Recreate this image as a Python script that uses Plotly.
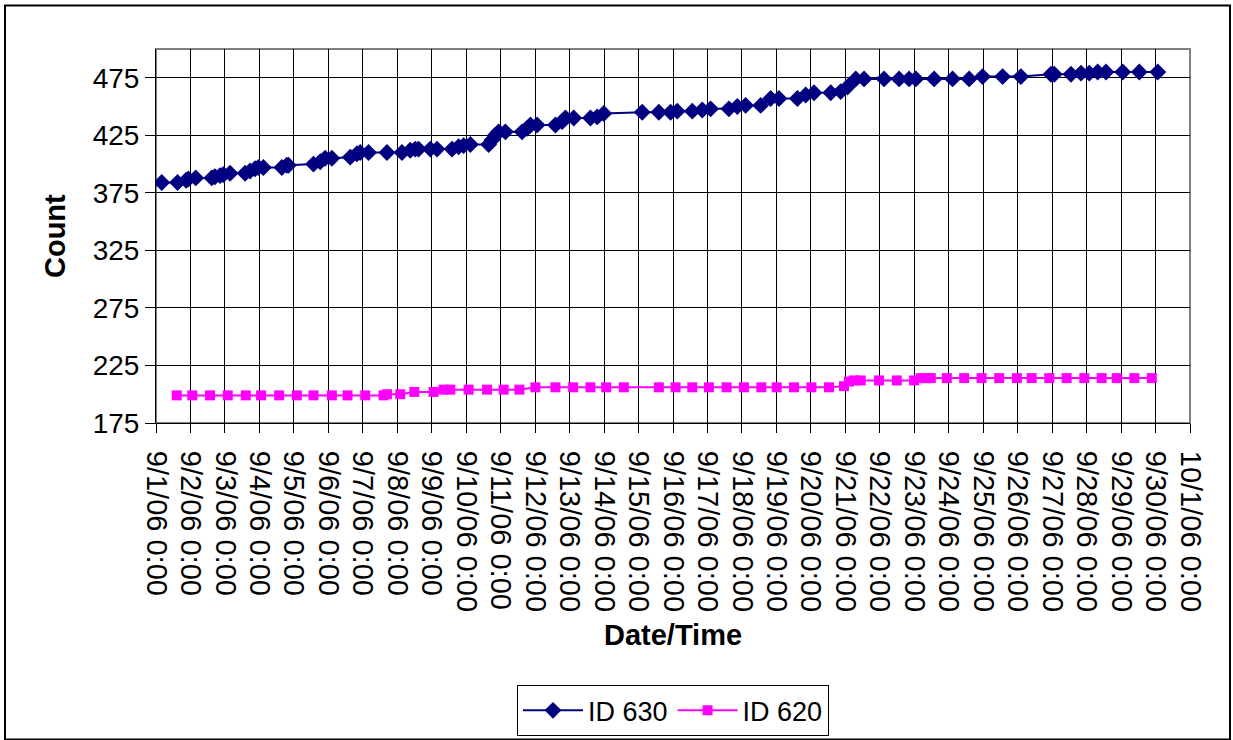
import plotly.graph_objects as go
from datetime import datetime, timedelta

# ---- data ----
id630_time = [
    "2006-09-01 04:00", "2006-09-01 15:00", "2006-09-01 21:00", "2006-09-01 22:30",
    "2006-09-02 03:40", "2006-09-02 14:50", "2006-09-02 17:00", "2006-09-02 20:36",
    "2006-09-02 22:55", "2006-09-03 03:35", "2006-09-03 14:02", "2006-09-03 17:31",
    "2006-09-03 21:00", "2006-09-03 23:18", "2006-09-04 02:47", "2006-09-04 15:37",
    "2006-09-04 19:06", "2006-09-04 20:13", "2006-09-05 13:39", "2006-09-05 18:19",
    "2006-09-05 21:48", "2006-09-06 02:28", "2006-09-06 15:14", "2006-09-06 19:54",
    "2006-09-06 22:12", "2006-09-07 04:00", "2006-09-07 16:49", "2006-09-08 03:16",
    "2006-09-08 09:03", "2006-09-08 12:32", "2006-09-08 14:50", "2006-09-08 23:00",
    "2006-09-09 03:40", "2006-09-09 14:07", "2006-09-09 18:43", "2006-09-09 22:12",
    "2006-09-10 02:53", "2006-09-10 15:38", "2006-09-10 18:00", "2006-09-10 20:18",
    "2006-09-10 22:36", "2006-09-11 03:16", "2006-09-11 14:55", "2006-09-11 18:24",
    "2006-09-11 20:43", "2006-09-12 01:22", "2006-09-12 14:08", "2006-09-12 18:48",
    "2006-09-12 21:06", "2006-09-13 02:53", "2006-09-13 14:31", "2006-09-13 19:12",
    "2006-09-13 23:48", "2006-09-15 02:34", "2006-09-15 14:08", "2006-09-15 22:18",
    "2006-09-16 02:57", "2006-09-16 13:25", "2006-09-16 20:22", "2006-09-17 02:10",
    "2006-09-17 14:55", "2006-09-17 20:47", "2006-09-18 02:34", "2006-09-18 13:02",
    "2006-09-18 20:00", "2006-09-19 01:47", "2006-09-19 14:36", "2006-09-19 20:24",
    "2006-09-20 02:11", "2006-09-20 13:50", "2006-09-20 20:47", "2006-09-21 01:28",
    "2006-09-21 07:15", "2006-09-21 13:02", "2006-09-22 02:58", "2006-09-22 13:26",
    "2006-09-22 20:24", "2006-09-23 01:05", "2006-09-23 13:50", "2006-09-24 02:40",
    "2006-09-24 14:14", "2006-09-24 23:34", "2006-09-25 13:30", "2006-09-26 02:15",
    "2006-09-26 23:11", "2006-09-27 01:29", "2006-09-27 13:07", "2006-09-27 20:05",
    "2006-09-28 01:52", "2006-09-28 07:43", "2006-09-28 13:30", "2006-09-29 01:09",
    "2006-09-29 12:43", "2006-09-30 01:34",
]
id630_count = [
    384, 384, 386, 387, 388, 388, 389, 390, 391, 392, 392, 394,
    396, 397, 397, 397, 399, 399, 400, 402, 405, 405, 406, 409,
    410, 410, 410, 410, 412, 413, 413, 413, 413, 413, 415, 416,
    417, 417, 421, 425, 428, 428, 428, 431, 434, 434, 434, 437,
    440, 440, 440, 441, 444, 445, 445, 445, 446, 446, 447, 448,
    448, 450, 451, 451, 457, 457, 457, 460, 462, 462, 463, 467,
    474, 474, 474, 474, 474, 474, 474, 474, 474, 476, 476, 476,
    478, 478, 478, 479, 479, 480, 480, 480, 480, 480,
]

id620_time = [
    "2006-09-01 14:26", "2006-09-02 01:18", "2006-09-02 13:38", "2006-09-03 01:58",
    "2006-09-03 14:31", "2006-09-04 01:11", "2006-09-04 13:44", "2006-09-05 02:05",
    "2006-09-05 13:39", "2006-09-06 02:28", "2006-09-06 13:21", "2006-09-07 01:41",
    "2006-09-07 14:27", "2006-09-07 16:49", "2006-09-08 02:05", "2006-09-08 11:50",
    "2006-09-09 01:18", "2006-09-09 08:15", "2006-09-09 12:56", "2006-09-10 01:42",
    "2006-09-10 14:31", "2006-09-11 02:05", "2006-09-11 13:02", "2006-09-12 00:11",
    "2006-09-12 14:08", "2006-09-13 02:28", "2006-09-13 14:31", "2006-09-14 01:28",
    "2006-09-14 13:45", "2006-09-15 14:08", "2006-09-16 01:47", "2006-09-16 13:25",
    "2006-09-17 00:59", "2006-09-17 13:19", "2006-09-18 01:23", "2006-09-18 13:31",
    "2006-09-19 00:11", "2006-09-19 12:14", "2006-09-20 00:22", "2006-09-20 12:38",
    "2006-09-20 23:05", "2006-09-21 02:34", "2006-09-21 06:02", "2006-09-21 10:43",
    "2006-09-21 23:28", "2006-09-22 11:50", "2006-09-22 23:53", "2006-09-23 04:34",
    "2006-09-23 09:13", "2006-09-23 11:31", "2006-09-23 22:41", "2006-09-24 10:45",
    "2006-09-24 22:52", "2006-09-25 11:08", "2006-09-25 23:28", "2006-09-26 09:43",
    "2006-09-26 21:59", "2006-09-27 10:06", "2006-09-27 22:23", "2006-09-28 10:30",
    "2006-09-28 20:58", "2006-09-29 09:14", "2006-09-29 21:23",
]
id620_count = [
    199, 199, 199, 199, 199, 199, 199, 199, 199, 199, 199, 199,
    199, 200, 200, 202, 202, 204, 204, 204, 204, 204, 204, 206,
    206, 206, 206, 206, 206, 206, 206, 206, 206, 206, 206, 206,
    206, 206, 206, 206, 207, 211, 212, 212, 212, 212, 212, 214,
    214, 214, 214, 214, 214, 214, 214, 214, 214, 214, 214, 214,
    214, 214, 214,
]

y_ticks = [175, 225, 275, 325, 375, 425, 475]
x_start = datetime(2006, 9, 1)
x_days = 30
x_tick_dates = [x_start + timedelta(days=i) for i in range(x_days + 1)]
x_tick_labels = [f"{d.month}/{d.day}/{d.strftime('%y')} 0:00" for d in x_tick_dates]

FONT = "Liberation Sans, Arial, sans-serif"

fig = go.Figure()
fig.add_trace(go.Scatter(
    x=id630_time, y=id630_count, name="ID 630", mode="lines+markers",
    line=dict(color="#000080", width=2),
    marker=dict(symbol="diamond", size=13, color="#000080"),
))
fig.add_trace(go.Scatter(
    x=id620_time, y=id620_count, name="ID 620", mode="lines+markers",
    line=dict(color="#FF00FF", width=2),
    marker=dict(symbol="square", size=10, color="#FF00FF"),
))

# vertical compensation: the page is photographed slightly taller than 740
S = 748 / 740
W, H = 1233, 748
L, R = 156, 43
T = round(48 * S)
B = H - round(421 * S)
pw, ph = W - L - R, H - T - B

def px(xp):
    return (xp - L) / pw

def py(yp):
    return (H - B - yp * S) / ph

fig.update_layout(
    width=W, height=H,
    margin=dict(l=L, r=R, t=T, b=B),
    paper_bgcolor="white", plot_bgcolor="white",
    font=dict(family=FONT, color="black", size=28),
    showlegend=True,
    legend=dict(
        orientation="h", x=0.5, xanchor="center", y=py(683), yanchor="top",
        bordercolor="black", borderwidth=1, font=dict(size=27),
        itemwidth=60,
    ),
    xaxis=dict(
        type="date",
        range=[x_tick_dates[0], x_tick_dates[-1]],
        tickvals=x_tick_dates, ticktext=x_tick_labels, tickangle=90,
        showgrid=True, gridcolor="black", gridwidth=1,
        ticks="outside", ticklen=9, tickcolor="black", tickwidth=1,
        showline=True, linecolor="black", linewidth=1,
        tickfont=dict(size=29), zeroline=False, ticklabelstandoff=12,
    ),
    yaxis=dict(
        range=[175, 500],
        tickvals=y_ticks, ticksuffix="\u00a0",
        showgrid=True, gridcolor="black", gridwidth=1,
        ticks="outside", ticklen=10, tickcolor="black", tickwidth=1,
        showline=True, linecolor="black", linewidth=1,
        tickfont=dict(size=28), zeroline=False,
    ),
    annotations=[
        dict(text="<b>Date/Time</b>", x=0.5, y=py(633), xref="paper", yref="paper",
             showarrow=False, font=dict(size=29), xanchor="center", yanchor="middle"),
        dict(text="<b>Count</b>", x=px(55), y=0.5, xref="paper", yref="paper",
             showarrow=False, font=dict(size=29), textangle=-90,
             xanchor="center", yanchor="middle"),
    ],
    shapes=[
        dict(type="rect", xref="paper", yref="paper", x0=0, x1=1, y0=0, y1=1,
             line=dict(color="#808080", width=2), layer="below"),
        dict(type="rect", xref="paper", yref="paper",
             x0=px(5), x1=px(1230), y0=py(737), y1=py(5),
             line=dict(color="black", width=2)),
    ],
)

post = (
    "var de=document.documentElement;"
    "de.style.margin='0';de.style.padding='0';de.style.overflow='hidden';"
    "document.body.style.margin='0';document.body.style.padding='0';"
    "document.body.style.overflow='hidden';"
    "document.body.style.lineHeight='0';document.body.style.fontSize='0';"
    "document.querySelectorAll('.svg-container').forEach(function(e){"
    "e.style.display='block';e.style.verticalAlign='top';});"
    "var g=document.querySelector('.plotly-graph-div');"
    "g.style.position='fixed';g.style.left='0px';g.style.top='0px';"
)
fig.write_html("out.html", post_script=post, config={"displayModeBar": False})
